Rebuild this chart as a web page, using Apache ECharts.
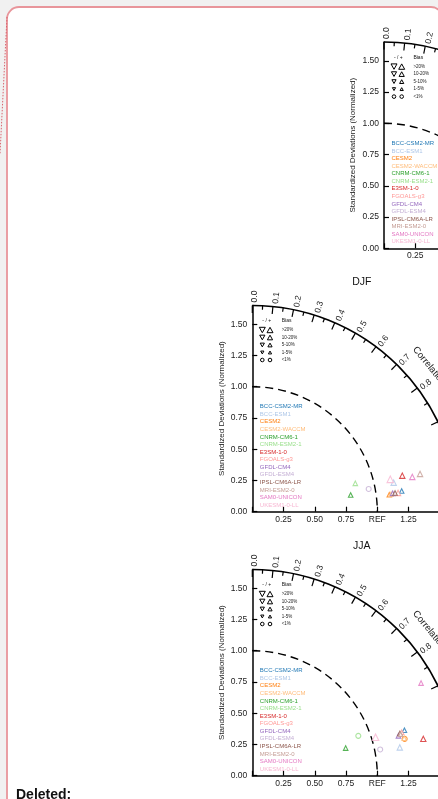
<!DOCTYPE html>
<html>
<head>
<meta charset="utf-8">
<script src="https://cdn.jsdelivr.net/npm/echarts@6/dist/echarts.min.js"></script>
<style>
  html, body { margin: 0; padding: 0; background: #f1f1f1; }
  #main { width: 438px; height: 799px; }
</style>
</head>
<body>
<div id="main"></div>
<script>
// models and their colours (tab20)
const models = ['BCC-CSM2-MR', 'BCC-ESM1', 'CESM2', 'CESM2-WACCM', 'CNRM-CM6-1', 'CNRM-ESM2-1',
  'E3SM-1-0', 'FGOALS-g3', 'GFDL-CM4', 'GFDL-ESM4', 'IPSL-CM6A-LR', 'MRI-ESM2-0', 'SAM0-UNICON', 'UKESM1-0-LL'];
const modelColors = ['#1f77b4', '#aec7e8', '#ff7f0e', '#ffbb78', '#2ca02c', '#98df8a',
  '#d62728', '#ff9896', '#9467bd', '#c5b0d5', '#8c564b', '#c49c94', '#e377c2', '#f7b6d2'];

// correlation ticks on the outer arc
const corrLabels = [0.0, 0.1, 0.2, 0.3, 0.4, 0.5, 0.6, 0.7, 0.8, 0.9, 0.95, 0.99];
const corrMinor = [0.05, 0.15, 0.25, 0.35, 0.45, 0.55, 0.65, 0.75, 0.85];

// bias classes: 0 '<1%' (circle), 1 '1-5%', 2 '5-10%', 3 '10-20%', 4 '>20%'
const biasLabels = ['>20%', '10-20%', '5-10%', '1-5%', '<1%'];

// DJF (x = std*corr, y = std*sin), normalized
const djfX = [1.195, 1.131, 1.096, 1.110, 0.787, 0.824, 1.200, 1.166, 1.123, 0.931, 1.142, 1.342, 1.280, 1.104];
const djfY = [0.166, 0.232, 0.136, 0.140, 0.134, 0.227, 0.288, 0.150, 0.147, 0.182, 0.150, 0.302, 0.278, 0.259];
const djfBias = [2, 3, 2, 2, 2, 2, 3, 3, 2, 0, 2, 3, 3, 4];

// JJA
const jjaX = [1.217, 1.180, 1.219, 1.215, 0.747, 0.848, 1.368, 1.195, 1.169, 1.023, 1.180, 1.187, 1.350, 0.986];
const jjaY = [0.364, 0.226, 0.295, 0.300, 0.221, 0.319, 0.295, 0.348, 0.319, 0.210, 0.338, 0.332, 0.741, 0.308];
const jjaBias = [2, 3, 0, 2, 2, 0, 3, 2, 2, 0, 2, 2, 2, 4];

const maxStd = 1.65;
const unitPx = 125;
const FONT = 'Liberation Sans, Arial, sans-serif';
const markerSize = [5, 3.5, 4.5, 5.3, 6.5];

const panels = [
  { x0: 384, y0: 248.3, title: '', xs: [], ys: [], bias: [] },
  { x0: 252.3, y0: 511.7, title: 'DJF', xs: djfX, ys: djfY, bias: djfBias },
  { x0: 252.3, y0: 775.7, title: 'JJA', xs: jjaX, ys: jjaY, bias: jjaBias }
];

function tri(cx, cy, s, down) {
  const h = s * 0.9, w = s / 2;
  return down
    ? [[cx - w, cy - h / 2], [cx + w, cy - h / 2], [cx, cy + h / 2]]
    : [[cx - w, cy + h / 2], [cx + w, cy + h / 2], [cx, cy - h / 2]];
}

function makeFrame(title) {
  return function (params, api) {
    const o = api.coord([0, 0]);
    const u = api.size([1, 1])[0];
    const R = maxStd * u;
    const kids = [];
    kids.push({ type: 'arc', shape: { cx: o[0], cy: o[1], r: R, startAngle: -Math.PI / 2, endAngle: 0, clockwise: true },
      style: { stroke: '#000', fill: null, lineWidth: 1.6 } });
    kids.push({ type: 'arc', shape: { cx: o[0], cy: o[1], r: u, startAngle: -Math.PI / 2, endAngle: 0, clockwise: true },
      style: { stroke: '#000', fill: null, lineWidth: 1.4, lineDash: [8, 5] } });
    function tick(c, len) {
      const t = Math.acos(c);
      kids.push({ type: 'line', shape: {
        x1: o[0] + R * Math.cos(t), y1: o[1] - R * Math.sin(t),
        x2: o[0] + (R - len) * Math.cos(t), y2: o[1] - (R - len) * Math.sin(t) },
        style: { stroke: '#000', lineWidth: 1.2 } });
    }
    corrLabels.forEach(function (c) {
      tick(c, 7.5);
      const t = Math.acos(c);
      const r = R + 3;
      kids.push({ type: 'text',
        x: o[0] + r * Math.cos(t) + 2.5 * Math.sin(t),
        y: o[1] - r * Math.sin(t) + 2.5 * Math.cos(t),
        rotation: t,
        style: { text: String(c.toFixed(c === 0.95 || c === 0.99 ? 2 : 1)), align: 'left', verticalAlign: 'middle',
          fontSize: 8.5, fontFamily: FONT, fill: '#222' } });
    });
    corrMinor.forEach(function (c) { tick(c, 4); });
    const ct = 39.5 * Math.PI / 180, cr = R + 23;
    kids.push({ type: 'text', x: o[0] + cr * Math.cos(ct), y: o[1] - cr * Math.sin(ct), rotation: ct - Math.PI / 2,
      style: { text: 'Correlation', align: 'center', verticalAlign: 'middle', fontSize: 9.5, fontFamily: FONT, fill: '#222' } });
    if (title) {
      kids.push({ type: 'text', x: o[0] + 109.5, y: o[1] - 229.5,
        style: { text: title, align: 'center', verticalAlign: 'middle', fontSize: 10.5, fontFamily: FONT, fill: '#111' } });
    }
    // bias legend
    kids.push({ type: 'text', x: o[0] + 14.4, y: o[1] - 190.7,
      style: { text: '- / +', align: 'center', verticalAlign: 'middle', fontSize: 5, fontFamily: FONT, fill: '#111' } });
    kids.push({ type: 'text', x: o[0] + 29.4, y: o[1] - 190.7,
      style: { text: 'Bias', align: 'left', verticalAlign: 'middle', fontSize: 5, fontFamily: FONT, fill: '#111' } });
    const legSizes = [6, 5.2, 4.2, 3.2];
    biasLabels.forEach(function (lab, i) {
      const y = o[1] - 181.7 + i * 7.5;
      if (i < 4) {
        kids.push({ type: 'polygon', shape: { points: tri(o[0] + 10, y, legSizes[i], true) },
          style: { fill: '#fff', stroke: '#000', lineWidth: 1 } });
        kids.push({ type: 'polygon', shape: { points: tri(o[0] + 17.7, y, legSizes[i], false) },
          style: { fill: '#fff', stroke: '#000', lineWidth: 1 } });
      } else {
        kids.push({ type: 'circle', shape: { cx: o[0] + 10, cy: y, r: 1.8 }, style: { fill: '#fff', stroke: '#000', lineWidth: 1 } });
        kids.push({ type: 'circle', shape: { cx: o[0] + 17.7, cy: y, r: 1.8 }, style: { fill: '#fff', stroke: '#000', lineWidth: 1 } });
      }
      kids.push({ type: 'text', x: o[0] + 29.4, y: y,
        style: { text: lab, align: 'left', verticalAlign: 'middle', fontSize: 4.5, fontFamily: FONT, fill: '#222' } });
    });
    // model legend
    models.forEach(function (m, i) {
      kids.push({ type: 'text', x: o[0] + 7.5, y: o[1] - 105 + i * 7.57,
        style: { text: m, align: 'left', verticalAlign: 'middle', fontSize: 6, fontFamily: FONT, fill: modelColors[i] } });
    });
    return { type: 'group', children: kids };
  };
}

function points(xs, ys, bias) {
  return xs.map(function (x, i) {
    return {
      value: [x, ys[i]],
      symbol: bias[i] === 0 ? 'circle' : 'triangle',
      symbolSize: markerSize[bias[i]],
      itemStyle: { color: '#fff', borderColor: modelColors[i], borderWidth: 1.1 }
    };
  });
}

const grid = [], xAxis = [], yAxis = [], series = [];
const side = maxStd * unitPx;
panels.forEach(function (p, i) {
  grid.push({ left: p.x0, top: p.y0 - side, width: side, height: side, containLabel: false, outerBoundsMode: 'none' });
  xAxis.push({
    gridIndex: i, type: 'value', min: 0, max: maxStd, interval: 0.25,
    axisLine: { lineStyle: { color: '#000', width: 1.5 } },
    axisTick: { inside: true, length: 5, lineStyle: { color: '#000', width: 1.2 } },
    axisLabel: { margin: 3, fontSize: 8.5, fontFamily: FONT, color: '#222', showMaxLabel: false,
      formatter: function (v) { return (v === 0 || v > 1.3) ? '' : (v === 1 ? 'REF' : v.toFixed(2)); } },
    splitLine: { show: false }
  });
  yAxis.push({
    gridIndex: i, type: 'value', min: 0, max: maxStd, interval: 0.25,
    name: 'Standardized Deviations (Normalized)', nameLocation: 'middle', nameGap: 27,
    nameTextStyle: { fontSize: 8, fontFamily: FONT, color: '#222' },
    axisLine: { show: true, lineStyle: { color: '#000', width: 1.5 } },
    axisTick: { show: true, inside: true, length: 5, lineStyle: { color: '#000', width: 1.2 } },
    axisLabel: { margin: 5, fontSize: 8.5, fontFamily: FONT, color: '#222', showMaxLabel: false,
      formatter: function (v) { return v.toFixed(2); } },
    splitLine: { show: false }
  });
  series.push({
    type: 'custom', xAxisIndex: i, yAxisIndex: i, data: [[0, 0]], clip: false, silent: true, z: 3,
    renderItem: makeFrame(p.title)
  });
  series.push({
    type: 'scatter', xAxisIndex: i, yAxisIndex: i, z: 5, silent: true,
    data: points(p.xs, p.ys, p.bias)
  });
});

const chart = echarts.init(document.getElementById('main'));
chart.setOption({
  backgroundColor: '#f1f1f1',
  animation: false,
  graphic: [
    { type: 'rect', z: -10, shape: { x: 7, y: 7, width: 436, height: 830, r: 12 },
      style: { fill: '#fff', stroke: '#e8959b', lineWidth: 1.8 } },
    { type: 'line', z: -5, shape: { x1: 7, y1: 17, x2: 0, y2: 154 },
      style: { stroke: '#d9646e', lineWidth: 1, lineDash: [1.5, 1.5] } },
    { type: 'text', left: 16, top: 788, z: 10,
      style: { text: 'Deleted:', fontSize: 14, fontWeight: 'bold', fontFamily: FONT, fill: '#111' } }
  ],
  grid: grid,
  xAxis: xAxis,
  yAxis: yAxis,
  series: series
});
</script>
</body>
</html>
